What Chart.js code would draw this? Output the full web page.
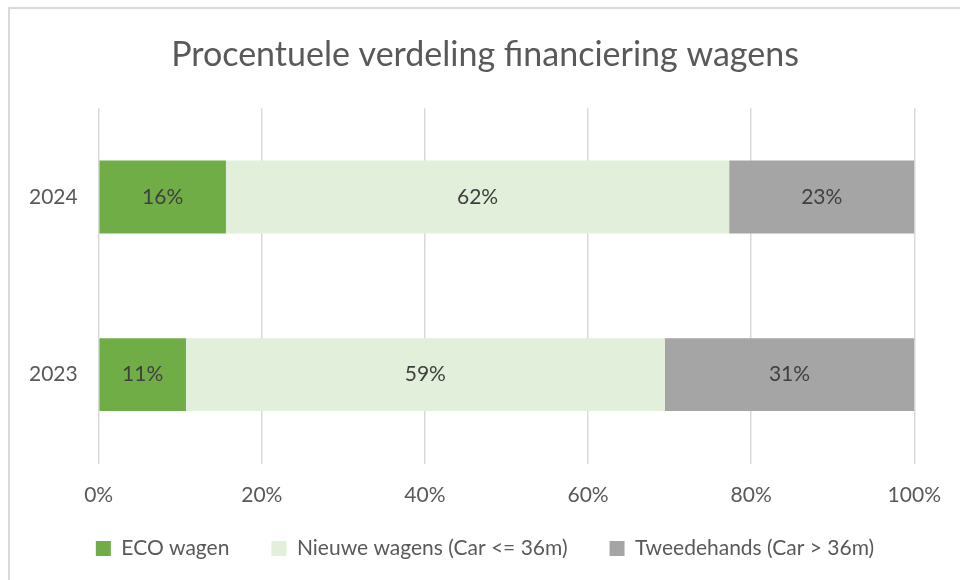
<!DOCTYPE html>
<html>
<head>
<meta charset="utf-8">
<script src="https://cdn.jsdelivr.net/npm/chart.js@4.4.1/dist/chart.umd.min.js"></script>
<style>
  html, body { margin: 0; padding: 0; background: #fff; overflow: hidden; }
  #wrap { position: relative; width: 960px; height: 580px; }
  #rand { position: absolute; left: 8px; top: 7px; width: 1000px; height: 1000px; border: 2px solid #d9d9d9; }
  #grafiek { position: absolute; left: 0; top: 0; }
</style>
</head>
<body>
<div id="wrap">
  <div id="rand"></div>
  <canvas id="grafiek" width="960" height="580"></canvas>
</div>
<script>
// data uit de grafiek
const jaren = ['2024', '2023']
const ecoWagen = [15.6, 10.7]
const nieuweWagens = [61.7, 58.7]
const tweedehands = [22.7, 30.6]
const reeksNamen = ['ECO wagen', 'Nieuwe wagens (Car <= 36m)', 'Tweedehands (Car > 36m)']
const tickWaarden = [0, 20, 40, 60, 80, 100]

const tekstKleur = '#595959'
const lettertype = 'Lato'

// labels midden in elke balk
const balkLabels = {
  id: 'balkLabels',
  afterDatasetsDraw(chart) {
    const ctx = chart.ctx
    ctx.save()
    ctx.font = '21px ' + lettertype
    ctx.fillStyle = '#404040'
    ctx.textAlign = 'center'
    ctx.textBaseline = 'middle'
    chart.data.datasets.forEach((ds, i) => {
      chart.getDatasetMeta(i).data.forEach((balk, j) => {
        const p = balk.getCenterPoint()
        ctx.fillText(Math.round(ds.data[j]) + '%', p.x, p.y)
      })
    })
    ctx.restore()
  }
}

const el = document.getElementById('grafiek')

new Chart(el, {
  type: 'bar',
  data: {
    labels: jaren,
    datasets: [
      { label: reeksNamen[0], data: ecoWagen, backgroundColor: '#70ad47' },
      { label: reeksNamen[1], data: nieuweWagens, backgroundColor: '#e2efda' },
      { label: reeksNamen[2], data: tweedehands, backgroundColor: '#a5a5a5' },
    ],
  },
  options: {
    indexAxis: 'y',
    responsive: false,
    animation: false,
    barPercentage: 0.41,
    categoryPercentage: 1,
    layout: { padding: { left: 10, right: 0, top: 0, bottom: 11 } },
    plugins: {
      tooltip: { enabled: false },
      title: {
        display: true,
        text: 'Procentuele verdeling financiering wagens',
        color: tekstKleur,
        font: { family: lettertype, size: 34, weight: 'normal' },
        padding: { top: 34.6, bottom: 32.8 },
      },
      legend: {
        position: 'bottom',
        labels: {
          color: tekstKleur,
          font: { family: lettertype, size: 21 },
          boxWidth: 15,
          boxHeight: 15,
          padding: 42,
        },
      },
    },
    scales: {
      x: {
        stacked: true,
        min: 0,
        max: 100,
        afterBuildTicks: (as) => { as.ticks = tickWaarden.map(v => ({ value: v })) },
        grid: { color: '#d9d9d9', lineWidth: 1.5, drawTicks: false },
        border: { display: false },
        ticks: {
          color: tekstKleur,
          font: { family: lettertype, size: 21 },
          mirror: true,
          padding: -44.1,
          callback: (v) => v + '%',
        },
        afterFit: (as) => { as.height = 32.5 },
      },
      y: {
        stacked: true,
        grid: { display: false, drawTicks: false },
        border: { display: false },
        ticks: {
          color: tekstKleur,
          font: { family: lettertype, size: 21 },
          padding: 21,
        },
        afterFit: (as) => { as.width = 88.7 },
      },
      // lege as rechts, houdt ruimte vrij naast het plotgebied
      rechts: {
        type: 'category',
        position: 'right',
        grid: { display: false, drawTicks: false },
        border: { display: false },
        ticks: { display: false },
        afterFit: (as) => { as.width = 45.7 },
      },
    },
  },
  plugins: [balkLabels],
})
</script>
</body>
</html>
